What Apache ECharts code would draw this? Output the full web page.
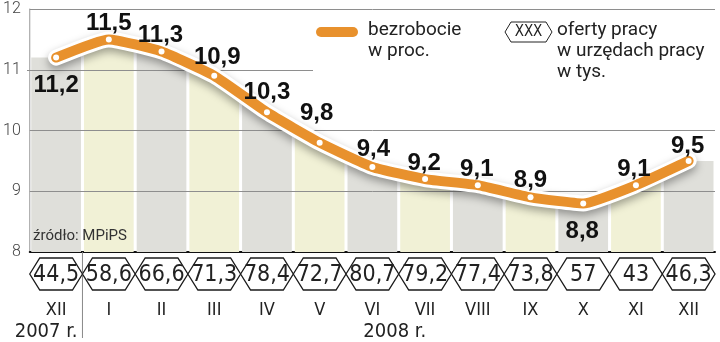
<!DOCTYPE html>
<html><head><meta charset="utf-8">
<script src="https://cdn.jsdelivr.net/npm/echarts@6/dist/echarts.min.js"></script>
<style>html,body{margin:0;padding:0;background:#fff}#c{width:720px;height:342px}</style>
</head><body><div id="c"></div>
<script>
// ---- data ----
const months = ['XII','I','II','III','IV','V','VI','VII','VIII','IX','X','XI','XII'];
const unemployment = [11.2, 11.5, 11.3, 10.9, 10.3, 9.8, 9.4, 9.2, 9.1, 8.9, 8.8, 9.1, 9.5];
const jobOffers = [44.5, 58.6, 66.6, 71.3, 78.4, 72.7, 80.7, 79.2, 77.4, 73.8, 57, 43, 46.3];
const years = ['2007 r.', '2008 r.'];
const yMin = 8, yMax = 12, yStep = 1;
const gridValues = [9, 10, 12];
const partialGridValue = 11;

// ---- styles ----
const ORANGE = '#e8912d';
const GRAY = '#dfdfda';
const YELLOW = '#f1f1d6';
const labelOffsets = [[0,28],[0,-16],[-1,-16],[3,-18],[0,-20],[-3,-29],[1,-18],[-1,-16],[-1,-16],[0,-17],[-1,28],[-2,-16],[-1,-15]];
const fmt = v => String(v).replace('.', ',');

const chart = echarts.init(document.getElementById('c'), null, {renderer: 'canvas'});

const option = {
  animation: false,
  grid: {left: 27, right: 5, top: 9, bottom: 90, containLabel: false},
  xAxis: {
    type: 'category',
    data: months,
    boundaryGap: true,
    axisLine: {show: true, lineStyle: {color: '#111', width: 2}},
    axisTick: {show: false},
    axisLabel: {interval: 0, margin: 49, fontFamily: 'DejaVu Sans Condensed', fontSize: 18, color: '#222'},
    splitLine: {show: false}
  },
  yAxis: {
    type: 'value', min: yMin, max: yMax, interval: yStep,
    axisLine: {show: true, lineStyle: {color: '#999', width: 1}},
    axisTick: {show: false},
    axisLabel: {margin: 9, fontFamily: 'Roboto', fontWeight: 300, fontSize: 16, color: '#444'},
    splitLine: {show: false}
  },
  series: [
    {
      // background columns whose tops follow the unemployment line
      type: 'custom', z: 1, clip: false,
      data: unemployment.map((v, i) => [i, v]),
      renderItem: function (params, api) {
        const i = api.value(0);
        const n = unemployment.length;
        const p = api.coord([i, api.value(1)]);
        const w = api.size([1, 0])[0];
        const base = api.coord([i, yMin])[1];
        const gap = 3;
        const xl = p[0] - w / 2 + gap / 2, xr = p[0] + w / 2 - gap / 2;
        const prev = i > 0 ? api.coord([i - 1, unemployment[i - 1]]) : null;
        const next = i < n - 1 ? api.coord([i + 1, unemployment[i + 1]]) : null;
        const yl = prev ? p[1] + (prev[1] - p[1]) * (p[0] - xl) / (p[0] - prev[0]) : p[1];
        const yr = next ? p[1] + (next[1] - p[1]) * (xr - p[0]) / (next[0] - p[0]) : p[1];
        return {type: 'polygon', shape: {points: [[xl, base], [xl, yl], [p[0], p[1]], [xr, yr], [xr, base]]},
          style: {fill: i % 2 ? YELLOW : GRAY}};
      }
    },
    {
      type: 'line', z: 3, smooth: 0.15,
      data: unemployment,
      showSymbol: false, symbol: 'none',
      lineStyle: {color: '#fff', width: 16, cap: 'round', join: 'round',
        shadowColor: 'rgba(0,0,0,0.35)', shadowBlur: 8, shadowOffsetY: 4},
      emphasis: {disabled: true},
      markLine: {
        silent: true, symbol: 'none', animation: false, z: 2,
        label: {show: false},
        lineStyle: {color: '#8e8e8e', width: 1, type: 'solid'},
        emphasis: {disabled: true},
        data: gridValues.map(v => ({yAxis: v})).concat([
          [{coord: [0, partialGridValue], x: 27}, {coord: [0, partialGridValue], x: 313}]
        ])
      }
    },
    {
      type: 'line', z: 4, smooth: 0.15,
      data: unemployment.map((v, i) => ({value: v, label: {offset: labelOffsets[i]}})),
      symbol: 'circle', symbolSize: 6, showSymbol: true,
      itemStyle: {color: '#fff', borderWidth: 0},
      lineStyle: {color: ORANGE, width: 10, cap: 'round', join: 'round'},
      label: {
        show: true, position: 'inside',
        formatter: p => fmt(p.value),
        fontFamily: 'Liberation Sans', fontWeight: 'bold', fontSize: 24, color: '#111'
      },
      emphasis: {disabled: true}
    },
    {
      type: 'custom', z: 5, clip: false,
      data: jobOffers.map((v, i) => [i, v]),
      renderItem: function (params, api) {
        const i = api.value(0);
        const c = api.coord([i, yMin]);
        const w = api.size([1, 0])[0];
        const cx = c[0], cy = c[1] + 22;
        const hw = w / 2, inset = 10, hh = 16;
        const children = [
          {type: 'polygon', shape: {points: [[cx - hw, cy], [cx - hw + inset, cy - hh], [cx + hw - inset, cy - hh], [cx + hw, cy], [cx + hw - inset, cy + hh], [cx - hw + inset, cy + hh]]},
            style: {fill: '#fff', stroke: '#1a1a1a', lineWidth: 1.3}},
          {type: 'text', style: {text: fmt(api.value(1)), x: cx, y: cy + 1, align: 'center', verticalAlign: 'middle',
            fontFamily: 'DejaVu Sans Condensed', fontSize: 23, fill: '#222'}}
        ];
        if (i === 0) {
          children.push({type: 'text', style: {text: years[0], x: cx - 10, y: c[1] + 80, align: 'center', verticalAlign: 'middle',
            fontFamily: 'DejaVu Sans Condensed', fontSize: 20, fill: '#222'}});
          children.push({type: 'line', shape: {x1: cx + hw, y1: c[1], x2: cx + hw, y2: c[1] + 86}, style: {stroke: '#888', lineWidth: 1}});
        }
        if (i === 1) {
          const last = api.coord([months.length - 1, yMin]);
          children.push({type: 'text', style: {text: years[1], x: (cx + last[0]) / 2 - 4, y: c[1] + 80, align: 'center', verticalAlign: 'middle',
            fontFamily: 'DejaVu Sans Condensed', fontSize: 20, fill: '#222'}});
        }
        return {type: 'group', children: children};
      }
    }
  ],
  graphic: [
    {type: 'rect', z: 100, shape: {x: 316, y: 27, width: 42, height: 10, r: 5}, style: {fill: ORANGE}},
    {type: 'text', z: 100, x: 368, y: 20, style: {text: 'bezrobocie\nw proc.', fontFamily: 'Roboto', fontSize: 19, lineHeight: 21, fill: '#222'}},
    {type: 'polygon', z: 100, shape: {points: [[505, 32], [511, 22], [546, 22], [552, 32], [546, 42], [511, 42]]}, style: {fill: '#fff', stroke: '#222', lineWidth: 1}},
    {type: 'text', z: 101, x: 528.5, y: 32, style: {text: 'XXX', align: 'center', verticalAlign: 'middle', fontFamily: 'DejaVu Sans Condensed', fontSize: 15, fill: '#222'}},
    {type: 'text', z: 100, x: 557, y: 20, style: {text: 'oferty pracy\nw urzędach pracy\nw tys.', fontFamily: 'Roboto', fontSize: 19, lineHeight: 21, fill: '#222'}},
    {type: 'text', z: 100, x: 33, y: 229, style: {text: 'źródło: MPiPS', fontFamily: 'Roboto', fontSize: 15, fill: '#333'}}
  ]
};
chart.setOption(option);
</script>
</body></html>
